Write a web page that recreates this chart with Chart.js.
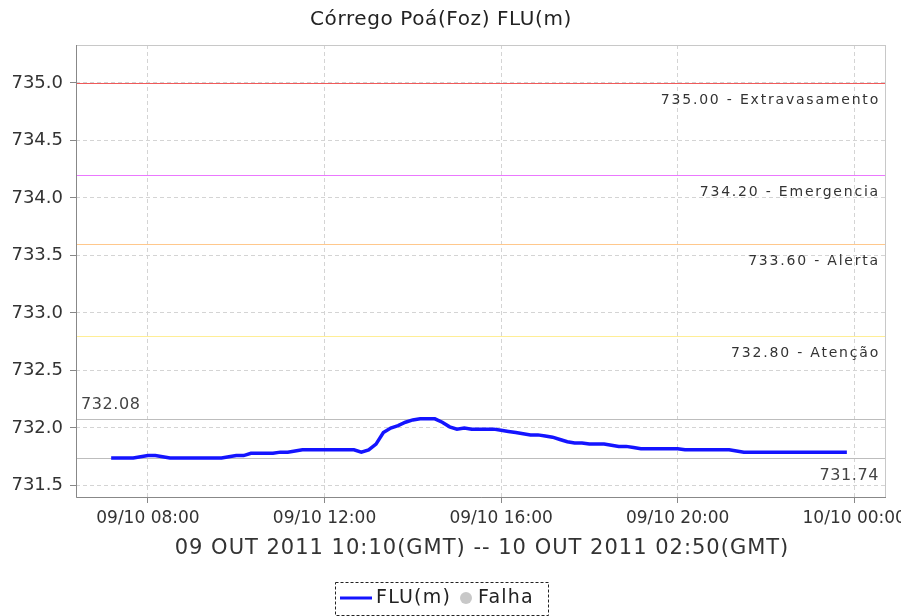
<!DOCTYPE html>
<html>
<head>
<meta charset="utf-8">
<script src="https://cdn.jsdelivr.net/npm/chart.js@4"></script>
<style>
  body { margin: 0; background: #fff; }
  #wrap { width: 901px; height: 616px; }
</style>
</head>
<body>
<div id="wrap"><canvas id="myChart" width="901" height="616"></canvas></div>
<script>
// leituras a cada 10 min (hora local), 09/10/2011
var horas = [
  '07:10','07:20','07:30','07:40','07:50',
  '08:00','08:10','08:20','08:30','08:40','08:50',
  '09:00','09:10','09:20','09:30','09:40','09:50',
  '10:00','10:10','10:20','10:30','10:40','10:50',
  '11:00','11:10','11:20','11:30','11:40','11:50',
  '12:00','12:10','12:20','12:30','12:40','12:50',
  '13:00','13:10','13:20','13:30','13:40','13:50',
  '14:00','14:10','14:20','14:30','14:40','14:50',
  '15:00','15:10','15:20','15:30','15:40','15:50',
  '16:00','16:10','16:20','16:30','16:40','16:50',
  '17:00','17:10','17:20','17:30','17:40','17:50',
  '18:00','18:10','18:20','18:30','18:40','18:50',
  '19:00','19:10','19:20','19:30','19:40','19:50',
  '20:00','20:10','20:20','20:30','20:40','20:50',
  '21:00','21:10','21:20','21:30','21:40','21:50',
  '22:00','22:10','22:20','22:30','22:40','22:50',
  '23:00','23:10','23:20','23:30','23:40','23:50'
];
var nivel = [
  731.74,731.74,731.74,731.74,731.75,
  731.76,731.76,731.75,731.74,731.74,731.74,
  731.74,731.74,731.74,731.74,731.74,731.75,
  731.76,731.76,731.78,731.78,731.78,731.78,
  731.79,731.79,731.80,731.81,731.81,731.81,
  731.81,731.81,731.81,731.81,731.81,731.79,
  731.81,731.86,731.96,732.00,732.02,732.05,
  732.07,732.08,732.08,732.08,732.05,732.01,
  731.99,732.00,731.99,731.99,731.99,731.99,
  731.98,731.97,731.96,731.95,731.94,731.94,
  731.93,731.92,731.90,731.88,731.87,731.87,
  731.86,731.86,731.86,731.85,731.84,731.84,
  731.83,731.82,731.82,731.82,731.82,731.82,
  731.82,731.81,731.81,731.81,731.81,731.81,
  731.81,731.81,731.80,731.79,731.79,731.79,
  731.79,731.79,731.79,731.79,731.79,731.79,
  731.79,731.79,731.79,731.79,731.79,731.79
];
var xTicks = [8, 12, 16, 20, 24];
var xTickLabels = ['09/10 08:00', '09/10 12:00', '09/10 16:00', '09/10 20:00', '10/10 00:00'];
var yTicks = [731.5, 732.0, 732.5, 733.0, 733.5, 734.0, 734.5, 735.0];

var cotas = [735.00, 734.20, 733.60, 732.80];
var cotasNomes = ['Extravasamento', 'Emergencia', 'Alerta', 'Atenção'];
var cotasCores = ['rgb(240,90,90)', 'rgb(235,120,255)', 'rgb(255,200,140)', 'rgb(255,238,150)'];

var titulo = 'Córrego Poá(Foz) FLU(m)';
var periodo = '09 OUT 2011 10:10(GMT) -- 10 OUT 2011 02:50(GMT)';

var FONTE = '"DejaVu Sans", sans-serif';
var AZUL = 'rgb(20,20,255)';

function paraHora(s) {
  var p = s.split(':');
  return parseInt(p[0], 10) + parseInt(p[1], 10) / 60;
}
var pontos = horas.map(function(h, i) { return { x: paraHora(h), y: nivel[i] }; });
var maxNivel = Math.max.apply(null, nivel);
var minNivel = Math.min.apply(null, nivel);

function texto(c, s, x, y, esp) {
  c.letterSpacing = (esp || 0) + 'px';
  c.fillText(s, x, y);
  c.letterSpacing = '0px';
}

//-----------------------------------------------
var extras = {
  id: 'extras',
  beforeDatasetsDraw: function(chart) {
    var c = chart.ctx, a = chart.chartArea, y = chart.scales.y;
    c.save();
    c.lineWidth = 1;
    c.setLineDash([]);
    cotas.forEach(function(v, i) {
      var py = Math.round(y.getPixelForValue(v)) + 0.5;
      c.strokeStyle = cotasCores[i];
      c.beginPath(); c.moveTo(a.left, py); c.lineTo(a.right, py); c.stroke();
      c.fillStyle = '#333';
      c.font = '14px ' + FONTE;
      c.textAlign = 'right';
      c.textBaseline = 'middle';
      texto(c, v.toFixed(2) + ' - ' + cotasNomes[i], a.right - 6, py + 17, 1.8);
    });
    // maximo e minimo
    c.strokeStyle = '#bdbdbd';
    var pmax = Math.round(y.getPixelForValue(maxNivel)) + 0.5;
    var pmin = Math.round(y.getPixelForValue(minNivel)) + 0.5;
    c.beginPath(); c.moveTo(a.left, pmax); c.lineTo(a.right, pmax); c.stroke();
    c.beginPath(); c.moveTo(a.left, pmin); c.lineTo(a.right, pmin); c.stroke();
    c.fillStyle = '#444';
    c.font = '16px ' + FONTE;
    c.textBaseline = 'middle';
    c.textAlign = 'left';
    texto(c, maxNivel.toFixed(2), a.left + 5, pmax - 15, 0.6);
    c.textAlign = 'right';
    texto(c, minNivel.toFixed(2), a.right - 7, pmin + 17, 0.6);
    c.restore();
  },
  afterDraw: function(chart) {
    var c = chart.ctx, a = chart.chartArea;
    c.save();
    // moldura
    c.strokeStyle = '#c8c8c8';
    c.lineWidth = 1;
    c.strokeRect(a.left + 0.5, a.top + 0.5, a.right - a.left - 1, a.bottom - a.top);
    c.strokeStyle = '#888';
    c.beginPath(); c.moveTo(a.left + 0.5, a.top); c.lineTo(a.left + 0.5, a.bottom + 0.5);
    c.lineTo(a.right, a.bottom + 0.5); c.stroke();
    // titulo
    c.fillStyle = '#222';
    c.font = '20px ' + FONTE;
    c.textAlign = 'center';
    c.textBaseline = 'middle';
    texto(c, titulo, 441, 20, 0.6);
    // periodo
    c.font = '21px ' + FONTE;
    c.fillStyle = '#333';
    texto(c, periodo, 482, 549, 1.0);
    // legenda
    c.setLineDash([3, 2]);
    c.strokeStyle = '#222';
    c.strokeRect(335.5, 582.5, 213, 33);
    c.setLineDash([]);
    c.strokeStyle = AZUL;
    c.lineWidth = 3;
    c.beginPath(); c.moveTo(340, 598); c.lineTo(372, 598); c.stroke();
    c.fillStyle = '#222';
    c.font = '19px ' + FONTE;
    c.textAlign = 'left';
    texto(c, 'FLU(m)', 376, 598, 1.2);
    c.fillStyle = '#c8c8c8';
    c.beginPath(); c.arc(466, 598, 6, 0, Math.PI * 2); c.fill();
    c.fillStyle = '#222';
    texto(c, 'Falha', 478, 598, 1.2);
    c.restore();
  }
};

var ctx = document.getElementById('myChart').getContext('2d');
var myChart = new Chart(ctx, {
  type: 'line',
  data: {
    datasets: [{
      label: 'FLU(m)',
      data: pontos,
      borderColor: AZUL,
      borderWidth: 3.5,
      pointRadius: 0,
      tension: 0
    }]
  },
  options: {
    responsive: false,
    animation: false,
    layout: { padding: { top: 45, right: 15, left: 0, bottom: 0 } },
    plugins: { legend: { display: false }, title: { display: false }, tooltip: { enabled: false } },
    scales: {
      x: {
        type: 'linear',
        min: 6.37,
        max: 24.72,
        afterBuildTicks: function(s) { s.ticks = xTicks.map(function(v) { return { value: v }; }); },
        afterFit: function(s) { s.height = 119; s.paddingLeft = 0; s.paddingRight = 0; },
        ticks: {
          autoSkip: false,
          maxRotation: 0,
          padding: 5,
          color: '#333',
          font: { family: FONTE, size: 17 },
          callback: function(v, i) { return xTickLabels[i]; }
        },
        grid: { color: '#d4d4d4', tickColor: '#888', tickLength: 6 },
        border: { display: false, dash: [4, 3] }
      },
      y: {
        min: 731.4,
        max: 735.33,
        afterBuildTicks: function(s) { s.ticks = yTicks.map(function(v) { return { value: v }; }); },
        afterFit: function(s) { s.width = 76; s.paddingTop = 0; s.paddingBottom = 0; },
        ticks: {
          padding: 7,
          color: '#333',
          font: { family: FONTE, size: 18 },
          callback: function(v) { return v.toFixed(1); }
        },
        grid: { color: '#d4d4d4', tickColor: '#888', tickLength: 6 },
        border: { display: false, dash: [4, 3] }
      }
    }
  },
  plugins: [extras]
});
</script>
</body>
</html>
